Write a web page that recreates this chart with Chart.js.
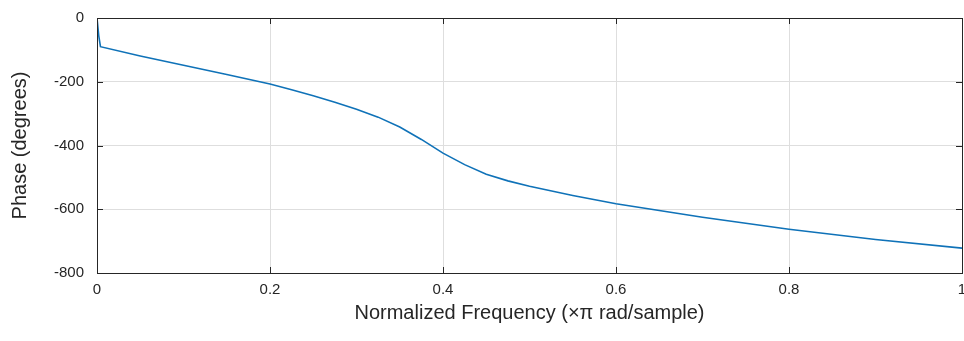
<!DOCTYPE html>
<html>
<head>
<meta charset="utf-8">
<script src="https://cdn.jsdelivr.net/npm/chart.js@4/dist/chart.umd.min.js"></script>
<style>
  html, body { margin: 0; padding: 0; background: #ffffff; }
  #wrap { width: 964px; height: 341px; position: relative; }
</style>
</head>
<body>
<div id="wrap"><canvas id="c" width="964" height="341"></canvas></div>
<script>
// Normalized frequency (x pi rad/sample)
const freq  = [0, 0.002, 0.004, 0.05, 0.1, 0.15, 0.2, 0.225, 0.25, 0.275, 0.3, 0.325, 0.35, 0.375, 0.4, 0.425, 0.45, 0.475, 0.5, 0.55, 0.6, 0.7, 0.8, 0.9, 1.0];
// Phase (degrees)
const phase = [0, -55, -90, -119, -148, -177, -207, -225, -244, -264, -286, -311, -342, -381, -424, -460, -490, -511, -528, -557, -583, -625, -663, -695, -722];
const xTicks = [0, 0.2, 0.4, 0.6, 0.8, 1];
const yTicks = [-800, -600, -400, -200, 0];

const tickFont = { family: "'Liberation Sans', Arial, sans-serif", size: 15 };
const titleFont = { family: "'Liberation Sans', Arial, sans-serif", size: 20 };
const textColor = '#262626';

const boxPlugin = {
  id: 'box',
  afterDraw(chart) {
    const { ctx, chartArea: a, scales } = chart;
    ctx.save();
    ctx.strokeStyle = '#262626';
    ctx.lineWidth = 1;
    ctx.strokeRect(Math.round(a.left) + 0.5, Math.round(a.top) + 0.5,
                   Math.round(a.right - a.left), Math.round(a.bottom - a.top));
    ctx.beginPath();
    const tl = 6;
    xTicks.forEach(v => {
      const px = Math.round(scales.x.getPixelForValue(v)) + 0.5;
      ctx.moveTo(px, a.bottom); ctx.lineTo(px, a.bottom - tl);
      ctx.moveTo(px, a.top); ctx.lineTo(px, a.top + tl);
    });
    yTicks.forEach(v => {
      const py = Math.round(scales.y.getPixelForValue(v)) + 0.5;
      ctx.moveTo(a.left, py); ctx.lineTo(a.left + tl, py);
      ctx.moveTo(a.right, py); ctx.lineTo(a.right - tl, py);
    });
    ctx.stroke();
    ctx.restore();
  }
};

new Chart(document.getElementById('c'), {
  type: 'line',
  data: {
    datasets: [{
      data: freq.map((f, i) => ({ x: f, y: phase[i] })),
      borderColor: '#0f72b8',
      borderWidth: 1.6,
      pointRadius: 0,
      fill: false,
      tension: 0
    }]
  },
  options: {
    responsive: false,
    animation: false,
    devicePixelRatio: 1,
    layout: { padding: { top: 18, right: 2, left: 0, bottom: 0 } },
    plugins: { legend: { display: false }, tooltip: { enabled: false } },
    scales: {
      x: {
        type: 'linear', min: 0, max: 1,
        afterBuildTicks: s => { s.ticks = xTicks.map(v => ({ value: v })); },
        afterFit: s => { s.height = 68; s.paddingRight = 0; s.paddingLeft = 0; },
        grid: { color: '#dedede', lineWidth: 1, drawTicks: false },
        border: { display: true, color: '#262626' },
        ticks: { font: tickFont, color: textColor, padding: 8, maxRotation: 0,
                 callback: v => String(v) },
        title: { display: true, text: 'Normalized Frequency (×π rad/sample)',
                 font: titleFont, color: textColor, padding: { top: 0, bottom: 16 } }
      },
      y: {
        type: 'linear', min: -800, max: 0,
        afterBuildTicks: s => { s.ticks = yTicks.map(v => ({ value: v })); },
        afterFit: s => { s.width = 97; s.paddingTop = 0; s.paddingBottom = 0; },
        grid: { color: '#dedede', lineWidth: 1, drawTicks: false },
        border: { display: true, color: '#262626' },
        ticks: { font: tickFont, color: textColor, padding: 13,
                 callback: v => String(v) },
        title: { display: true, text: 'Phase (degrees)',
                 font: titleFont, color: textColor, padding: { top: 8, bottom: 0 } }
      }
    }
  },
  plugins: [boxPlugin]
});
</script>
</body>
</html>
